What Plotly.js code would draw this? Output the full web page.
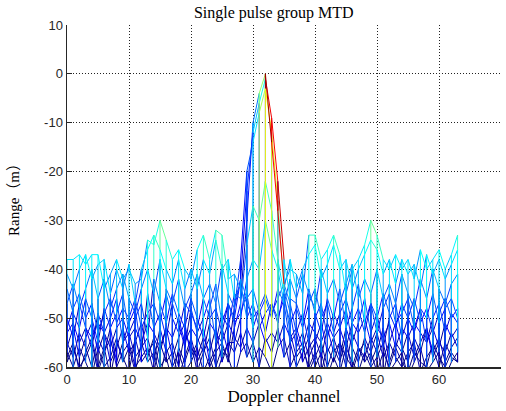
<!DOCTYPE html>
<html><head><meta charset="utf-8">
<script src="https://cdn.plot.ly/plotly-3.0.1.min.js"></script>
<style>html,body{margin:0;padding:0;background:#fff;} #chart{width:506px;height:411px;}</style>
</head><body><div id="chart"></div>
<script>
// Doppler channel index of every mesh column
const dopplerChannels = [0,1,2,3,4,5,6,7,8,9,10,11,12,13,14,15,16,17,18,19,20,21,22,23,24,25,26,27,28,29,30,31,
  32,33,34,35,36,37,38,39,40,41,42,43,44,45,46,47,48,49,50,51,52,53,54,55,56,57,58,59,60,61,62,63];

// Amplitude (dB) of each range bin across the 64 Doppler channels
const bin01 = [-38,-38,-37,-39,-37,-37,-44,-41,-38,-42,-40,-43,-42,-34,-35,-30,-34,-38,-36,-40,-42,-36,-33,-38,-32,-33,-42,-41,-44,-47,-50,-48,
  -45,-49,-46,-43,-40,-41,-45,-33,-33,-38,-36,-33,-37,-45,-40,-38,-35,-30,-33,-38,-40,-37,-40,-38,-42,-36,-40,-38,-36,-40,-37,-33];
const bin02 = [-41,-44,-40,-37,-42,-39,-38,-45,-40,-44,-39,-47,-40,-36,-33,-36,-40,-43,-38,-44,-40,-44,-38,-41,-34,-40,-38,-46,-43,-50,-47,-52,
  -49,-47,-51,-44,-38,-44,-40,-37,-35,-42,-39,-35,-40,-38,-44,-40,-37,-34,-36,-41,-38,-43,-38,-41,-39,-44,-37,-41,-38,-42,-39,-36];
const bin03 = [-44,-49,-52,-46,-50,-55,-48,-52,-49,-45,-53,-50,-47,-54,-42,-47,-51,-45,-49,-52,-46,-50,-54,-48,-43,-51,-47,-50,-42,-24,-12,-6,
  -1,-9,-22,-38,-46,-47,-51,-44,-49,-53,-46,-50,-44,-52,-48,-43,-51,-47,-53,-48,-45,-51,-49,-46,-52,-48,-50,-45,-51,-48,-46,-50];
const bin04 = [-50,-54,-47,-52,-56,-49,-53,-50,-46,-55,-51,-48,-57,-45,-52,-49,-54,-47,-51,-56,-48,-53,-50,-46,-55,-49,-52,-45,-46,-30,-10,-4,
  0,-14,-28,-43,-47,-53,-49,-55,-50,-47,-54,-49,-52,-48,-55,-51,-46,-53,-49,-56,-50,-47,-54,-50,-53,-48,-55,-50,-47,-53,-49,-51];
const bin05 = [-56,-52,-58,-54,-51,-57,-53,-59,-56,-52,-57,-55,-51,-58,-54,-57,-52,-58,-54,-51,-58,-55,-52,-59,-56,-52,-57,-48,-38,-20,-14,-8,
  -3,-12,-26,-44,-49,-56,-53,-58,-55,-51,-57,-54,-58,-52,-56,-59,-54,-57,-53,-58,-55,-51,-56,-59,-54,-57,-52,-58,-55,-57,-53,-56];
const bin06 = [-58,-55,-61,-57,-54,-60,-56,-62,-55,-58,-61,-54,-59,-57,-55,-60,-58,-63,-56,-59,-55,-61,-57,-54,-60,-56,-58,-62,-57,-55,-59,-56,
  -58,-61,-56,-54,-60,-57,-55,-61,-58,-55,-60,-56,-59,-54,-61,-57,-55,-59,-56,-62,-55,-58,-60,-57,-55,-61,-58,-56,-60,-55,-58,-59];
const bin07 = [-59,-56,-60,-58,-55,-61,-57,-54,-60,-57,-55,-60,-58,-56,-61,-55,-59,-57,-62,-58,-54,-59,-56,-60,-57,-55,-59,-52,-47,-35,-27,-30,
  -22,-28,-38,-45,-53,-58,-56,-60,-57,-61,-56,-59,-55,-58,-60,-56,-59,-57,-61,-57,-60,-56,-59,-61,-57,-59,-60,-55,-58,-60,-57,-59];
const bin08 = [-47,-43,-48,-44,-40,-46,-42,-48,-44,-41,-46,-49,-44,-40,-45,-38,-44,-47,-42,-48,-45,-41,-46,-43,-47,-39,-45,-48,-42,-46,-44,-49,
  -46,-50,-44,-47,-42,-46,-41,-45,-48,-40,-45,-42,-47,-43,-39,-46,-42,-45,-40,-46,-43,-47,-41,-45,-48,-42,-46,-40,-44,-47,-43,-41];
const bin09 = [-57,-60,-56,-59,-62,-56,-60,-58,-54,-59,-56,-61,-55,-59,-57,-62,-56,-60,-57,-61,-59,-56,-61,-58,-62,-58,-55,-55,-50,-42,-38,-40,
  -30,-36,-40,-47,-55,-60,-57,-54,-60,-57,-62,-58,-61,-56,-59,-61,-57,-60,-58,-55,-61,-59,-57,-62,-59,-56,-61,-59,-57,-62,-59,-57];
const bin10 = [-52,-48,-45,-50,-47,-53,-49,-46,-51,-48,-50,-46,-52,-49,-47,-51,-45,-50,-53,-47,-49,-52,-46,-50,-48,-53,-47,-51,-49,-45,-52,-48,
  -53,-47,-50,-46,-51,-48,-52,-47,-44,-50,-47,-53,-49,-46,-51,-48,-53,-47,-50,-45,-49,-52,-47,-50,-46,-51,-48,-53,-49,-46,-50,-48];
const bin11 = [-55,-58,-53,-56,-60,-54,-57,-52,-59,-55,-53,-58,-56,-54,-59,-52,-57,-55,-60,-53,-56,-58,-54,-57,-52,-59,-55,-57,-53,-58,-55,-60,
  -54,-57,-52,-58,-55,-53,-59,-56,-54,-58,-52,-57,-55,-60,-53,-56,-58,-54,-57,-52,-59,-55,-57,-53,-58,-55,-52,-57,-54,-59,-56,-54];
const bin12 = [-53,-51,-55,-52,-54,-51,-53,-56,-52,-50,-54,-52,-55,-51,-53,-56,-52,-54,-50,-55,-52,-54,-57,-51,-53,-55,-51,-54,-56,-52,-55,-51,
  -55,-53,-55,-51,-54,-52,-56,-51,-53,-55,-51,-54,-52,-56,-51,-53,-50,-55,-52,-54,-51,-56,-52,-54,-51,-53,-55,-52,-56,-51,-54,-52];

// Colour data (CData) that differs from the amplitude near the target, per range bin
const targetCols = [28,29,30,31,32,33,34];
const bin03Color = [-52,-48,-40,-35,-6,-7,-5];
const bin04Color = [-55,-50,-44,-28,-2,-7,-6];
const bin05Color = [-50,-46,-38,-27,-22,-24,-30];
const bin07Color = [-47,-40,-32,-30,-32,-33,-38];
// colour limits of the jet colormap
const colorLimits = [-58, 0];

const yTickVals = [-60,-50,-40,-30,-20,-10,0,10];
const yTickLabels = ['-60','-50','-40','-30','-20','-10','0','10'];
const xTickVals = [0,10,20,30,40,50,60,70];
const xTickLabels = ['0','10','20','30','40','50','60','70'];

// ---- build mesh ----
const Z = [bin01,bin02,bin03,bin04,bin05,bin06,bin07,bin08,bin09,bin10,bin11,bin12];
const colorPatches = {2: bin03Color, 3: bin04Color, 4: bin05Color, 6: bin07Color};
const C = Z.map((row, r) => {
  const c = row.slice();
  if (colorPatches[r]) targetCols.forEach((col, k) => { c[col] = colorPatches[r][k]; });
  return c;
});
const cmin = colorLimits[0], cmax = colorLimits[1];

const NC = 64;
function jet(i) {
  const t = i / (NC - 1);
  const cl = v => Math.max(0, Math.min(1, v));
  const r = cl(1.5 - Math.abs(4 * t - 3)), g = cl(1.5 - Math.abs(4 * t - 2)), b = cl(1.5 - Math.abs(4 * t - 1));
  return 'rgb(' + Math.round(r * 255) + ',' + Math.round(g * 255) + ',' + Math.round(b * 255) + ')';
}
const bins = Array.from({length: NC}, () => ({x: [], y: []}));
function addSeg(x0, y0, x1, y1, c) {
  let idx = Math.round((c - cmin) / (cmax - cmin) * (NC - 1));
  idx = Math.max(0, Math.min(NC - 1, idx));
  bins[idx].x.push(x0, x1, null);
  bins[idx].y.push(y0, y1, null);
}
const nR = Z.length, nD = dopplerChannels.length;
// range-direction edges (appear vertical in this view)
for (let r = 0; r < nR - 1; r++) {
  for (let j = 0; j < nD; j++) addSeg(dopplerChannels[j], Z[r][j], dopplerChannels[j], Z[r + 1][j], C[r][j]);
}
// Doppler-direction edges
for (let r = 0; r < nR; r++) {
  for (let j = 0; j < nD - 1; j++) addSeg(dopplerChannels[j], Z[r][j], dopplerChannels[j + 1], Z[r][j + 1], C[r][j]);
}
const traces = [];
bins.forEach((b, i) => {
  if (!b.x.length) return;
  traces.push({type: 'scatter', mode: 'lines', x: b.x, y: b.y, connectgaps: false,
    line: {color: jet(i), width: 1}, hoverinfo: 'skip', showlegend: false});
});

const axisCol = '#262626';
const layout = {
  width: 506, height: 411,
  margin: {l: 67, r: 5, t: 25, b: 44, pad: 0},
  paper_bgcolor: '#fff', plot_bgcolor: '#fff',
  showlegend: false,
  title: {text: 'Single pulse group MTD', font: {family: 'Liberation Serif, Times New Roman, serif', size: 16, color: '#000'},
    xref: 'container', x: 0.541, xanchor: 'center', yref: 'container', y: 0.971, yanchor: 'middle'},
  xaxis: {range: [0, 70], tickvals: xTickVals, ticktext: xTickLabels, ticks: 'inside', ticklen: 5, tickcolor: axisCol,
    showline: true, linecolor: axisCol, linewidth: 1.5, mirror: false, zeroline: false,
    showgrid: true, gridcolor: '#222', griddash: '1px,2px', gridwidth: 1,
    tickfont: {family: 'Liberation Sans, Arial, sans-serif', size: 13, color: axisCol},
    title: {text: 'Doppler channel', font: {family: 'Liberation Serif, Times New Roman, serif', size: 17, color: '#000'}, standoff: 2}},
  yaxis: {range: [-60, 10], tickvals: yTickVals, ticktext: yTickLabels, ticks: 'inside', ticklen: 5, tickcolor: axisCol,
    showline: true, linecolor: axisCol, linewidth: 1.5, mirror: false, zeroline: false,
    showgrid: true, gridcolor: '#222', griddash: '1px,2px', gridwidth: 1,
    tickfont: {family: 'Liberation Sans, Arial, sans-serif', size: 13, color: axisCol},
    title: {text: 'Range（m）', font: {family: 'Liberation Serif, Noto Sans CJK SC, serif', size: 15, color: '#000'}, standoff: 21}}
};
Plotly.newPlot('chart', traces, layout, {displayModeBar: false, staticPlot: true});
</script></body></html>
